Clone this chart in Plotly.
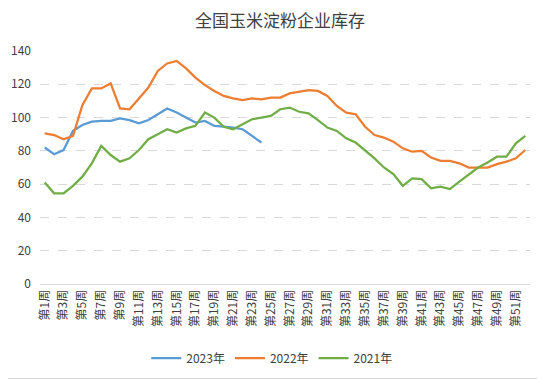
import plotly.graph_objects as go

weeks = [f"第{i}周" for i in range(1, 53)]
tick_labels = [f"第{i}周" for i in range(1, 53, 2)]

y2023 = [82, 78, 80.5, 92, 95.5, 97.5, 98, 98, 99.5, 98.5, 96.5, 98.5, 102, 105.5, 103, 100,
         97, 98, 95, 94.5, 94, 93, 89, 85]
y2022 = [90.5, 89.5, 87, 89, 107.5, 117.5, 117.5, 120.5, 105.5, 105, 111.5, 118, 128, 132.5,
         134, 129.5, 124, 119.5, 116, 113, 111.5, 110.5, 111.5, 111, 112, 112, 114.5, 115.5,
         116.5, 116, 113, 107, 103, 102, 94.5, 89.5, 88, 85.5, 81.5, 79.5, 80, 76, 74, 74,
         72.5, 70, 70, 70, 72, 73.5, 75.5, 80.5]
y2021 = [61, 54.5, 54.5, 59, 64.5, 72.5, 83, 77.5, 73.5, 75.5, 80.5, 87, 90, 93, 91, 93.5,
         95, 103, 100, 94.5, 93, 96, 99, 100, 101, 105, 106, 103.5, 102.5, 98.5, 94, 92,
         87.5, 85, 80.5, 75.5, 70, 66, 59, 63.5, 63, 57.5, 58.5, 57, 61.5, 66, 70, 73,
         76.5, 76.5, 84.5, 89]

series = [("2023年", y2023, "#5B9BD5"), ("2022年", y2022, "#ED7D31"), ("2021年", y2021, "#70AD47")]

fig = go.Figure()
for name, vals, color in series:
    fig.add_trace(go.Scatter(x=weeks[:len(vals)], y=vals, mode="lines", name=name,
                             line=dict(color=color, width=2.25)))

font = "Noto Sans CJK SC, Microsoft YaHei, sans-serif"
W, H = 537, 371
L, T, PW, PH = 32, 43, 490, 233
fig.update_layout(
    width=W, height=H,
    margin=dict(l=L, r=W - L - PW, t=T, b=H - T - PH, autoexpand=False),
    paper_bgcolor="white", plot_bgcolor="white",
    title=dict(text="全国玉米淀粉企业库存", x=(L + 240) / W, xanchor="center", y=0.965,
               yanchor="middle", font=dict(family=font, size=17, color="#404040")),
    font=dict(family=font, size=12, color="#404040"),
    showlegend=True,
    legend=dict(orientation="h", x=0.473, xanchor="center", y=-0.3176, yanchor="middle",
                font=dict(family=font, size=12, color="#404040"), itemwidth=30,
                tracegroupgap=0),
    xaxis=dict(type="category", categoryorder="array", categoryarray=weeks,
               range=[-0.5, 51.5], tickmode="array", tickvals=tick_labels, ticktext=tick_labels,
               tickangle=-90, tickfont=dict(family=font, size=12, color="#404040"),
               showgrid=False, showline=True, linecolor="#D9D9D9", linewidth=1,
               ticks="", zeroline=False, automargin=False),
    yaxis=dict(range=[0, 140], dtick=20, tickfont=dict(family=font, size=12, color="#404040"),
               showgrid=True, gridcolor="#D9D9D9", griddash="dash", gridwidth=1,
               zeroline=False, showline=False, ticks="", ticklabelstandoff=8, automargin=False),
    shapes=[dict(type="rect", xref="paper", yref="paper",
                 x0=(-10 - L) / PW, x1=(W - 0.5 - L) / PW,
                 y0=-(H - 0.5 - T - PH) / PH, y1=(PH + T + 10) / PH,
                 line=dict(color="#D9D9D9", width=1), fillcolor="rgba(0,0,0,0)", layer="below")],
)

fig.write_html("out.html")
